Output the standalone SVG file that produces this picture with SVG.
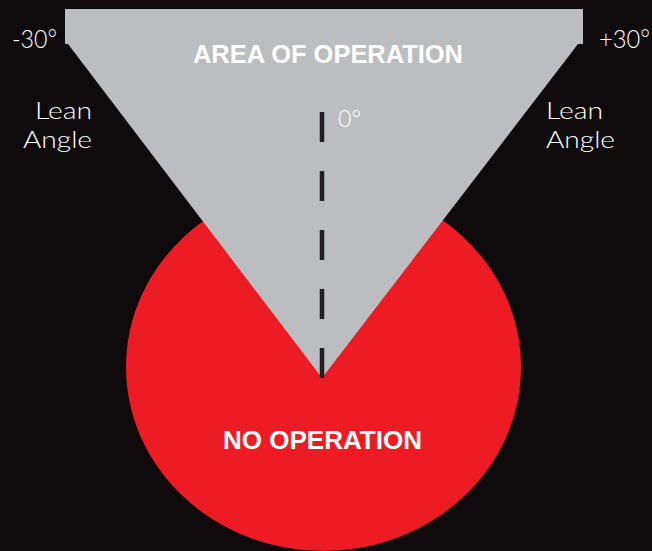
<svg xmlns="http://www.w3.org/2000/svg" width="652" height="551" viewBox="0 0 652 551">
  <style>
    .lbl { font-family: "Lato", "Liberation Sans", Arial, sans-serif; font-weight: 300; fill: #ffffff; }
    .title { font-family: "Liberation Sans", Arial, sans-serif; font-weight: bold; fill: #ffffff; font-size: 26px; }
  </style>
  <rect x="0" y="0" width="652" height="551" fill="#0f0b0c"/>
  <g id="no-operation">
    <ellipse cx="323.5" cy="367" rx="197.5" ry="184" fill="#ed1c24"/>
  </g>
  <g id="area-of-operation">
    <polygon points="65,9 583,9 583,44 578,44 322,378 68,44 65,44" fill="#bcbdc0"/>
    <text class="title" x="193" y="63" textLength="270" lengthAdjust="spacingAndGlyphs">AREA OF OPERATION</text>
  </g>
  <g id="connectors">
    <line x1="322" y1="112" x2="322" y2="378" stroke="#231f20" stroke-width="4.5" stroke-dasharray="30 29"/>
  </g>
  <g id="no-operation-label">
    <text class="title" x="223" y="448.5" textLength="199" lengthAdjust="spacingAndGlyphs">NO OPERATION</text>
  </g>
  <g id="labels">
    <text class="lbl" x="12" y="47.5" font-size="25" textLength="45" lengthAdjust="spacingAndGlyphs">-30°</text>
    <text class="lbl" x="599" y="47.5" font-size="25" textLength="51" lengthAdjust="spacingAndGlyphs">+30°</text>
    <text class="lbl" x="35" y="119" font-size="23" textLength="57" lengthAdjust="spacingAndGlyphs">Lean</text>
    <text class="lbl" x="23" y="148" font-size="23" textLength="69" lengthAdjust="spacingAndGlyphs">Angle</text>
    <text class="lbl" x="546" y="119" font-size="23" textLength="57" lengthAdjust="spacingAndGlyphs">Lean</text>
    <text class="lbl" x="546" y="148" font-size="23" textLength="69" lengthAdjust="spacingAndGlyphs">Angle</text>
    <text class="lbl" x="338" y="126.5" font-size="24" textLength="23" lengthAdjust="spacingAndGlyphs">0°</text>
  </g>
</svg>
